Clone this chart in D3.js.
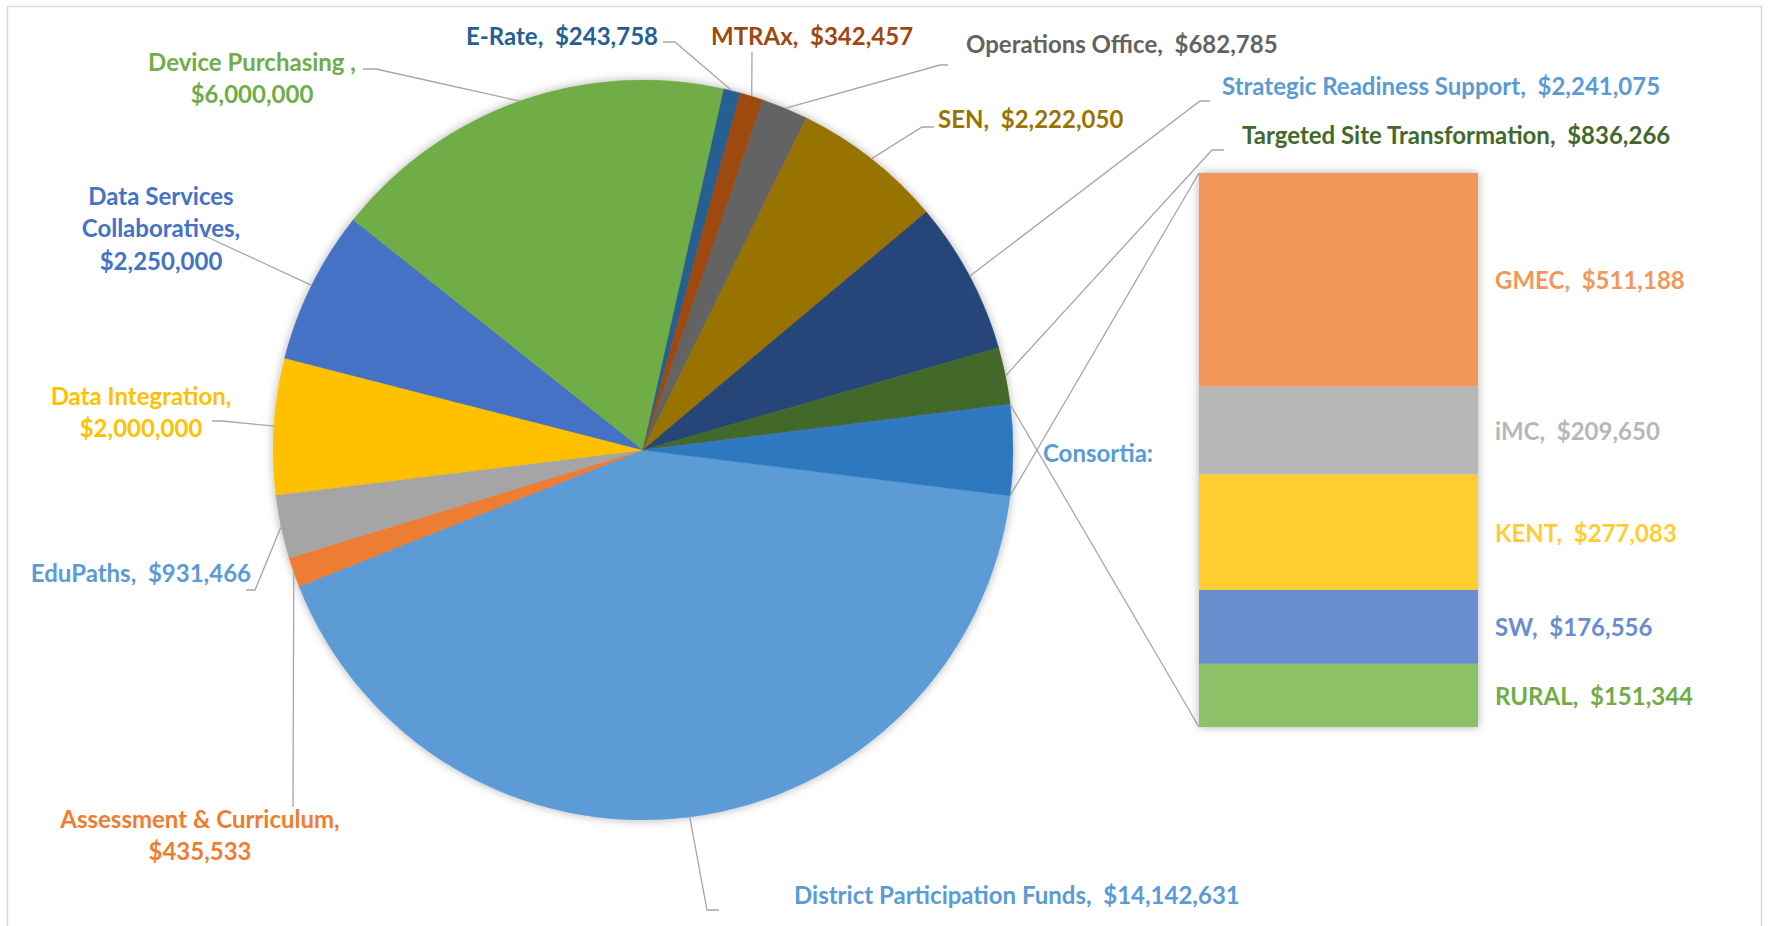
<!DOCTYPE html>
<html>
<head>
<meta charset="utf-8">
<script src="https://cdn.jsdelivr.net/npm/d3@7"></script>
<style>
  body { margin: 0; background: #fff; }
  text { font-family: Lato, "Open Sans", sans-serif; font-weight: 700; white-space: pre; }
</style>
</head>
<body>
<svg id="chart" width="1769" height="926"></svg>
<script>
// pie slices, clockwise, starting right after the combined "Consortia" slice
const pieNames = [
  'District Participation Funds', 'Assessment & Curriculum', 'EduPaths',
  'Data Integration', 'Data Services Collaboratives', 'Device Purchasing ',
  'E-Rate', 'MTRAx', 'Operations Office', 'SEN',
  'Strategic Readiness Support', 'Targeted Site Transformation'
];
const pieValues = [
  14142631, 435533, 931466,
  2000000, 2250000, 6000000,
  243758, 342457, 682785, 2222050,
  2241075, 836266
];
const pieColors = [
  '#5B9BD5', '#ED7D31', '#A5A5A5',
  '#FFC000', '#4472C4', '#70AD47',
  '#255E91', '#9E480E', '#636363', '#997300',
  '#264478', '#43682B'
];
const pieLabelColors = [
  '#5B9BD5', '#ED7D31', '#5B9BD5',
  '#FFC000', '#4472C4', '#70AD47',
  '#255E91', '#9E480E', '#636363', '#997300',
  '#5B9BD5', '#43682B'
];

// the secondary bar (top to bottom)
const consNames = ['GMEC', 'iMC', 'KENT', 'SW', 'RURAL'];
const consValues = [511188, 209650, 277083, 176556, 151344];
const consColors = ['#F1975A', '#B7B7B7', '#FFCD33', '#698ED0', '#8CC168'];
const consLabelColors = ['#F1975A', '#B7B7B7', '#FFCD33', '#698ED0', '#70AD47'];

const fmt = d3.format('$,');
const svg = d3.select('#chart');
const cx = 643, cy = 450, radius = 370;
const fontSize = 24;

// hand placed labels, like the Excel data labels
// wrap: how many lines, leader: bend points from the slice edge to the label
const labelLayout = {
  'District Participation Funds': {x: 794, y: 894, anchor: 'start', leader: [[707, 910], [719, 910]]},
  'Assessment & Curriculum': {x: 200, y: 818, anchor: 'middle', wrap: 2, leader: [[293, 807]]},
  'EduPaths': {x: 251, y: 572, anchor: 'end', leader: [[255, 590], [246, 590]]},
  'Data Integration': {x: 141, y: 395, anchor: 'middle', wrap: 2, leader: [[222, 421], [212, 421]]},
  'Data Services Collaboratives': {x: 161, y: 195, anchor: 'middle', wrap: 3, leader: [[205, 236]]},
  'Device Purchasing ': {x: 252, y: 61, anchor: 'middle', wrap: 2, leader: [[376, 69], [363, 69]]},
  'E-Rate': {x: 658, y: 35, anchor: 'end', leader: [[675, 42], [663, 42]]},
  'MTRAx': {x: 711, y: 35, anchor: 'start', leader: [[752, 52]]},
  'Operations Office': {x: 966, y: 43, anchor: 'start', leader: [[940, 65], [948, 65]]},
  'SEN': {x: 938, y: 118, anchor: 'start', leader: [[922, 127], [934, 127]]},
  'Strategic Readiness Support': {x: 1222, y: 85, anchor: 'start', leader: [[1200, 101], [1210, 101]]},
  'Targeted Site Transformation': {x: 1242, y: 134, anchor: 'start', leader: [[1212, 150], [1224, 150]]}
};
const lineHeight = 32.5;

const defs = svg.append('defs');
const shadow = defs.append('filter').attr('id', 'shadow')
  .attr('x', '-10%').attr('y', '-10%').attr('width', '120%').attr('height', '120%');
shadow.append('feDropShadow')
  .attr('dx', 0).attr('dy', 0).attr('stdDeviation', 5)
  .attr('flood-color', '#000').attr('flood-opacity', 0.3);

// chart frame
svg.append('rect')
  .attr('x', 7.5).attr('y', 6.5)
  .attr('width', 1754).attr('height', 940)
  .attr('fill', '#fff')
  .attr('stroke', '#D9D9D9')
  .attr('stroke-width', 1.5);

const consTotal = d3.sum(consValues);
const slices = pieNames.map((name, i) => ({
  name, value: pieValues[i], color: pieColors[i], labelColor: pieLabelColors[i]
}));
slices.push({name: 'Consortia', value: consTotal, color: '#2E78C0', labelColor: '#5B9BD5'});

// the combined slice is centred on 3 o'clock, facing the bar
const total = d3.sum(slices, (d) => d.value);
const consAngle = consTotal / total * 2 * Math.PI;
const start = Math.PI / 2 + consAngle / 2;

const pie = d3.pie()
  .sort(null)
  .value((d) => d.value)
  .startAngle(start)
  .endAngle(start + 2 * Math.PI);
const arcs = pie(slices);

const arc = d3.arc().innerRadius(0).outerRadius(radius);

const pieG = svg.append('g').attr('transform', 'translate(' + cx + ',' + cy + ')');
pieG.append('g')
  .attr('filter', 'url(#shadow)')
  .selectAll('path')
  .data(arcs)
  .enter()
  .append('path')
  .attr('d', arc)
  .attr('fill', (d) => d.data.color)
  .attr('stroke', (d) => d.data.color)
  .attr('stroke-width', 0.5);

function edgePoint(angle) {
  return [cx + radius * Math.sin(angle), cy - radius * Math.cos(angle)];
}

// leader lines + labels
const labelG = svg.append('g');
arcs.forEach((d) => {
  const layout = labelLayout[d.data.name];
  if (!layout) return;
  const mid = (d.startAngle + d.endAngle) / 2;
  const pts = [edgePoint(mid)].concat(layout.leader);
  labelG.append('path')
    .attr('d', d3.line()(pts))
    .attr('fill', 'none')
    .attr('stroke', '#A6A6A6')
    .attr('stroke-width', 1.3);

  let lines;
  if (layout.wrap === 3) {
    const words = d.data.name.split(' ');
    lines = [words.slice(0, 2).join(' '), words.slice(2).join(' ') + ',', fmt(d.data.value)];
  } else if (layout.wrap === 2) {
    lines = [d.data.name + ',', fmt(d.data.value)];
  } else {
    lines = [d.data.name + ',  ' + fmt(d.data.value)];
  }
  const t = labelG.append('text')
    .attr('text-anchor', layout.anchor)
    .attr('fill', d.data.labelColor)
    .attr('font-size', fontSize);
  lines.forEach((line, i) => {
    t.append('tspan')
      .attr('x', layout.x)
      .attr('y', layout.y + i * lineHeight)
      .attr('dominant-baseline', 'central')
      .text(line);
  });
});

// consortia label
labelG.append('text')
  .attr('x', 1043).attr('y', 452)
  .attr('dominant-baseline', 'central')
  .attr('fill', '#5B9BD5')
  .attr('font-size', fontSize)
  .text('Consortia:');

// secondary bar
const barX = 1199, barW = 279;
const yBar = d3.scaleLinear().domain([0, consTotal]).range([727, 173]);
const stackData = [];
let acc = 0;
for (let i = consValues.length - 1; i >= 0; i--) {
  stackData.push({name: consNames[i], value: consValues[i], y0: acc, y1: acc + consValues[i],
    color: consColors[i], labelColor: consLabelColors[i]});
  acc += consValues[i];
}

// connector lines from the combined slice to the bar
const consArc = arcs[arcs.length - 1];
const pTop = edgePoint(consArc.endAngle - 2 * Math.PI);
const pBottom = edgePoint(consArc.startAngle);
svg.append('path')
  .attr('d', d3.line()([pTop, [barX, yBar(consTotal)]]))
  .attr('stroke', '#A6A6A6').attr('stroke-width', 1.3).attr('fill', 'none');
svg.append('path')
  .attr('d', d3.line()([pBottom, [barX, yBar(0)]]))
  .attr('stroke', '#A6A6A6').attr('stroke-width', 1.3).attr('fill', 'none');

const barG = svg.append('g');
barG.append('g')
  .attr('filter', 'url(#shadow)')
  .selectAll('rect')
  .data(stackData)
  .enter()
  .append('rect')
  .attr('x', barX)
  .attr('width', barW)
  .attr('y', (d) => yBar(d.y1))
  .attr('height', (d) => yBar(d.y0) - yBar(d.y1))
  .attr('fill', (d) => d.color);

barG.selectAll('text')
  .data(stackData)
  .enter()
  .append('text')
  .attr('x', barX + barW + 17)
  .attr('y', (d) => (yBar(d.y0) + yBar(d.y1)) / 2)
  .attr('dominant-baseline', 'central')
  .attr('fill', (d) => d.labelColor)
  .attr('font-size', fontSize)
  .text((d) => d.name + ',  ' + fmt(d.value));
</script>
</body>
</html>
